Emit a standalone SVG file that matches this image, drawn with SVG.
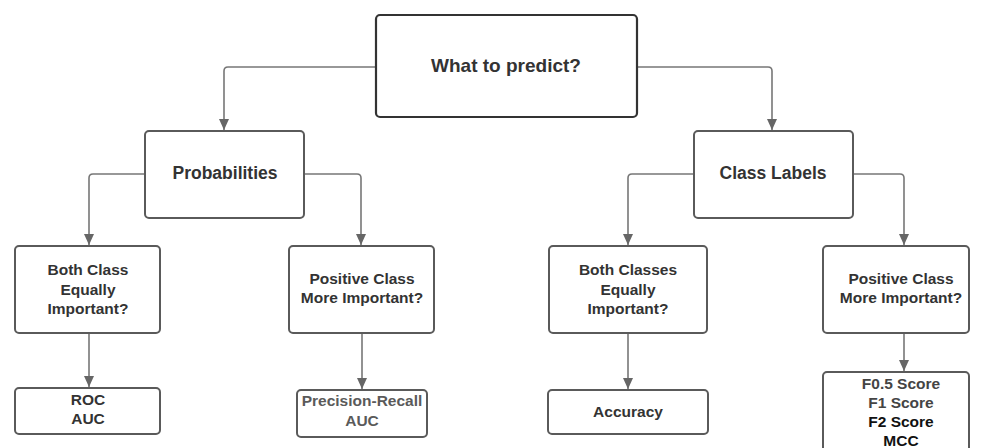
<svg xmlns="http://www.w3.org/2000/svg" width="983" height="448" viewBox="0 0 983 448">
<defs>
<marker id="arr" markerWidth="11" markerHeight="10" refX="11" refY="5" orient="auto" markerUnits="userSpaceOnUse" viewBox="0 0 11 10">
<path d="M0,0 L11,5 L0,10 Z" fill="#666"/>
</marker>
<style>
.box{fill:#fff;stroke:#5a5a5a;stroke-width:2}
.top{fill:#fff;stroke:#333;stroke-width:2.2}
.t{font-family:"Liberation Sans",Arial,sans-serif;font-weight:bold;fill:#333;text-anchor:middle}
.c{fill:none;stroke:#777;stroke-width:1.6}
</style>
</defs>
<rect width="983" height="448" fill="#fff"/>
<g id="connectors">
<path class="c" d="M376,67 H228 Q224,67 224,71 V130" marker-end="url(#arr)"/>
<path class="c" d="M637,67 H768 Q772,67 772,71 V130" marker-end="url(#arr)"/>
<path class="c" d="M145,174 H93 Q89,174 89,178 V245" marker-end="url(#arr)"/>
<path class="c" d="M304,174 H357 Q361,174 361,178 V245" marker-end="url(#arr)"/>
<path class="c" d="M694,174 H632 Q628,174 628,178 V245" marker-end="url(#arr)"/>
<path class="c" d="M853,174 H900 Q904,174 904,178 V245" marker-end="url(#arr)"/>
<path class="c" d="M89,333 V387" marker-end="url(#arr)"/>
<path class="c" d="M362,333 V389" marker-end="url(#arr)"/>
<path class="c" d="M628,333 V389" marker-end="url(#arr)"/>
<path class="c" d="M904,333 V371" marker-end="url(#arr)"/>
</g>
<g id="n-root">
<rect class="top" x="376" y="15" width="261" height="102" rx="4"/>
<text class="t" x="506" y="72" font-size="19">What to predict?</text>
</g>
<g id="n-prob">
<rect class="box" x="145" y="131" width="159" height="87" rx="4"/>
<text class="t" x="225" y="179" font-size="17.5">Probabilities</text>
</g>
<g id="n-class">
<rect class="box" x="694" y="131" width="159" height="87" rx="4"/>
<text class="t" x="773" y="179" font-size="17.5">Class Labels</text>
</g>
<g id="n-both1">
<rect class="box" x="15" y="246" width="145" height="87" rx="4"/>
<text class="t" x="88" y="275" font-size="15.5">Both Class</text>
<text class="t" x="88" y="295" font-size="15.5">Equally</text>
<text class="t" x="88" y="314" font-size="15.5">Important?</text>
</g>
<g id="n-pos1">
<rect class="box" x="289" y="246" width="145" height="87" rx="4"/>
<text class="t" x="362" y="284" font-size="15.5">Positive Class</text>
<text class="t" x="362" y="303" font-size="15.5">More Important?</text>
</g>
<g id="n-both2">
<rect class="box" x="549" y="246" width="158" height="87" rx="4"/>
<text class="t" x="628" y="275" font-size="15.5">Both Classes</text>
<text class="t" x="628" y="295" font-size="15.5">Equally</text>
<text class="t" x="628" y="314" font-size="15.5">Important?</text>
</g>
<g id="n-pos2">
<rect class="box" x="823" y="246" width="146" height="87" rx="4"/>
<text class="t" x="901" y="284" font-size="15.5">Positive Class</text>
<text class="t" x="901" y="303" font-size="15.5">More Important?</text>
</g>
<g id="n-roc">
<rect class="box" x="15" y="388" width="145" height="46" rx="4"/>
<text class="t" x="88" y="405" font-size="15.5">ROC</text>
<text class="t" x="88" y="424" font-size="15.5">AUC</text>
</g>
<g id="n-pr">
<rect class="box" x="297" y="390" width="130" height="47" rx="4"/>
<text class="t" x="362" y="406" font-size="15.5" style="fill:#5a5a5a">Precision-Recall</text>
<text class="t" x="362" y="426" font-size="15.5" style="fill:#5a5a5a">AUC</text>
</g>
<g id="n-acc">
<rect class="box" x="548" y="390" width="160" height="44" rx="4"/>
<text class="t" x="628" y="417" font-size="15.5">Accuracy</text>
</g>
<g id="n-f">
<rect class="box" x="823" y="372" width="146" height="90" rx="4"/>
<text class="t" x="901" y="389" font-size="15.5" style="fill:#444">F0.5 Score</text>
<text class="t" x="901" y="408" font-size="15.5" style="fill:#444">F1 Score</text>
<text class="t" x="901" y="427" font-size="15.5" style="fill:#111">F2 Score</text>
<text class="t" x="901" y="446" font-size="15.5" style="fill:#111">MCC</text>
</g>
</svg>
